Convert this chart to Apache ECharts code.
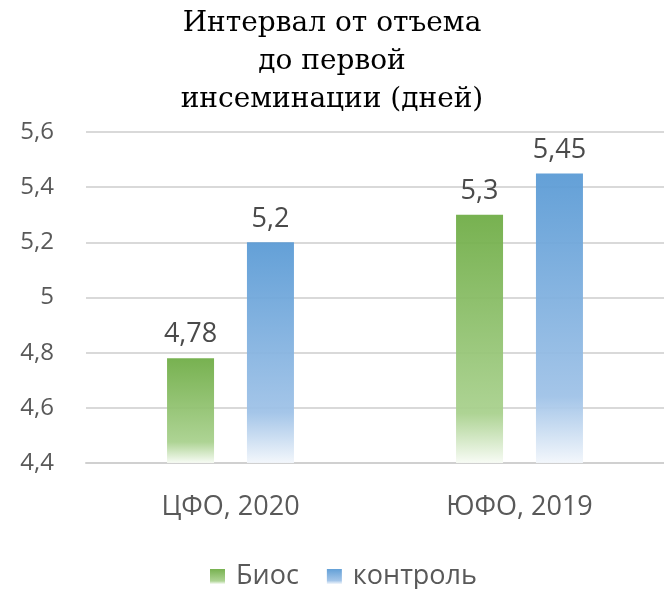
<!DOCTYPE html>
<html><head><meta charset="utf-8">
<script src="https://cdn.jsdelivr.net/npm/echarts@6/dist/echarts.min.js"></script>
<style>html,body{margin:0;padding:0;background:#fff}#c{width:664px;height:589px}</style>
</head><body><div id="c"></div>
<script>
const titleText = 'Интервал от отъема\nдо первой\nинсеминации (дней)';
const categories = ['ЦФО, 2020', 'ЮФО, 2019'];
const seriesNames = ['Биос', 'контроль'];
const biosValues = [4.78, 5.3];
const controlValues = [5.2, 5.45];
const yMin = 4.4, yMax = 5.6, yStep = 0.2;

function grad(top, mid, bottom, stop) {
  return new echarts.graphic.LinearGradient(0, 0, 0, 1, [
    {offset: 0, color: top}, {offset: stop, color: mid}, {offset: 1, color: bottom}
  ]);
}
const sansFont = '"Open Sans", sans-serif';
const chart = echarts.init(document.getElementById('c'));
chart.setOption({
  animation: false,
  title: {
    text: titleText, left: 'center', top: 0,
    textStyle: {fontFamily: '"DejaVu Serif", serif', fontSize: 28, fontWeight: 'normal', color: '#000000', lineHeight: 38}
  },
  legend: {
    bottom: -6, left: 205, itemWidth: 15, itemHeight: 15, itemGap: 28,
    icon: 'rect',
    textStyle: {fontFamily: sansFont, fontSize: 27, color: '#595959', padding: [0, 0, 0, 6]},
    data: seriesNames
  },
  grid: {left: 86, top: 132, width: 585, height: 331, containLabel: false},
  xAxis: {
    type: 'category', data: categories,
    axisLine: {lineStyle: {color: '#d0d0d0', width: 2}},
    axisTick: {show: false},
    axisLabel: {fontFamily: sansFont, fontSize: 27, color: '#595959', margin: 31}
  },
  yAxis: {
    type: 'value', min: yMin, max: yMax, interval: yStep,
    axisLine: {show: false}, axisTick: {show: false},
    splitLine: {lineStyle: {color: '#d9d9d9', width: 2}},
    axisLabel: {fontFamily: sansFont, fontSize: 24, color: '#595959', margin: 32,
      formatter: v => String(Math.round(v * 100) / 100).replace('.', ',')}
  },
  series: [
    {
      name: seriesNames[0], type: 'bar', data: biosValues, barWidth: 47, barGap: '70%',
      itemStyle: {color: grad('#70ad47', '#a9d18e', '#f7fbf4', 0.8), opacity: 0.95},
      label: {show: true, position: 'top', distance: 10, fontFamily: sansFont, fontSize: 27, color: '#404040',
        formatter: p => String(p.value).replace('.', ',')}
    },
    {
      name: seriesNames[1], type: 'bar', data: controlValues, barWidth: 47,
      itemStyle: {color: grad('#5b9bd5', '#9fc2e7', '#f2f6fb', 0.77), opacity: 0.95},
      label: {show: true, position: 'top', distance: 10, fontFamily: sansFont, fontSize: 27, color: '#404040',
        formatter: p => String(p.value).replace('.', ',')}
    }
  ]
});
</script></body></html>
